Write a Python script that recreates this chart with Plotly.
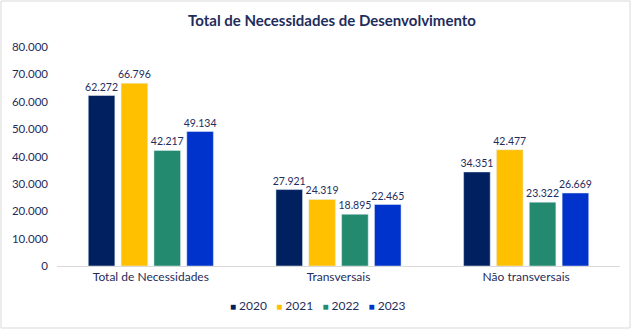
import plotly.graph_objects as go

categories = ["Total de Necessidades", "Transversais", "Não transversais"]
years = ["2020", "2021", "2022", "2023"]
v2020 = [62272, 27921, 34351]
v2021 = [66796, 24319, 42477]
v2022 = [42217, 18895, 23322]
v2023 = [49134, 22465, 26669]
series = [v2020, v2021, v2022, v2023]
colors = ["#002060", "#FFC000", "#238A70", "#0033CC"]
y_ticks = [0, 10000, 20000, 30000, 40000, 50000, 60000, 70000, 80000]
y_ticklabels = ["0", "10.000", "20.000", "30.000", "40.000", "50.000", "60.000", "70.000", "80.000"]

def fmt(v):
    return f"{v:,}".replace(",", ".")

W, H = 632, 332
L, R, T, B = 57, 12, 47, 66
FONT = "Lato, Open Sans, sans-serif"
NAVY = "#1F2D5C"

fig = go.Figure()
for name, vals, c in zip(years, series, colors):
    fig.add_trace(go.Bar(
        x=categories, y=vals, name=name, marker_color=c,
        text=[fmt(v) for v in vals], textposition="outside",
        constraintext="none",
        textfont=dict(size=10.5, color=NAVY, family=FONT),
        cliponaxis=False, showlegend=False,
    ))

pw = W - L - R
ph = H - T - B
fig.add_shape(type="rect", xref="paper", yref="paper",
              x0=(1 - L) / pw, x1=(630 - L) / pw,
              y0=(H - B - 328) / ph, y1=(H - B - 1) / ph,
              line=dict(color="#D9D9D9", width=1), fillcolor="rgba(0,0,0,0)", layer="below")

legend_text = "&nbsp;&nbsp;&nbsp;".join(
    f"<span style='color:{c}; font-size:10px'>■</span> {y}" for y, c in zip(years, colors)
)
fig.add_annotation(
    text=legend_text, xref="paper", yref="paper",
    x=(318 - L) / pw, xanchor="center",
    y=-(305 - (H - B)) / ph, yanchor="middle", showarrow=False,
    font=dict(size=12, color=NAVY, family=FONT),
)

fig.update_layout(
    width=W, height=H,
    margin=dict(l=L, r=R, t=T, b=B),
    paper_bgcolor="white", plot_bgcolor="white",
    barmode="group", bargap=0.3, bargroupgap=0.19,
    title=dict(text="<b>Total de Necessidades de Desenvolvimento</b>",
               x=(332 - L) / pw, xref="paper", xanchor="center",
               y=1 - 21 / H, yanchor="middle",
               font=dict(size=15, color=NAVY, family=FONT)),
    font=dict(family=FONT, color=NAVY),
    showlegend=False,
    xaxis=dict(showline=True, linecolor="#D9D9D9", linewidth=1, ticks="",
               tickfont=dict(size=12, color=NAVY, family=FONT)),
    yaxis=dict(range=[0, 80000], tickvals=y_ticks, ticktext=y_ticklabels,
               showgrid=False, zeroline=False, showline=False,
               tickfont=dict(size=11.5, color=NAVY, family=FONT), ticklabelstandoff=8),
)

fig.write_html("out.html")
